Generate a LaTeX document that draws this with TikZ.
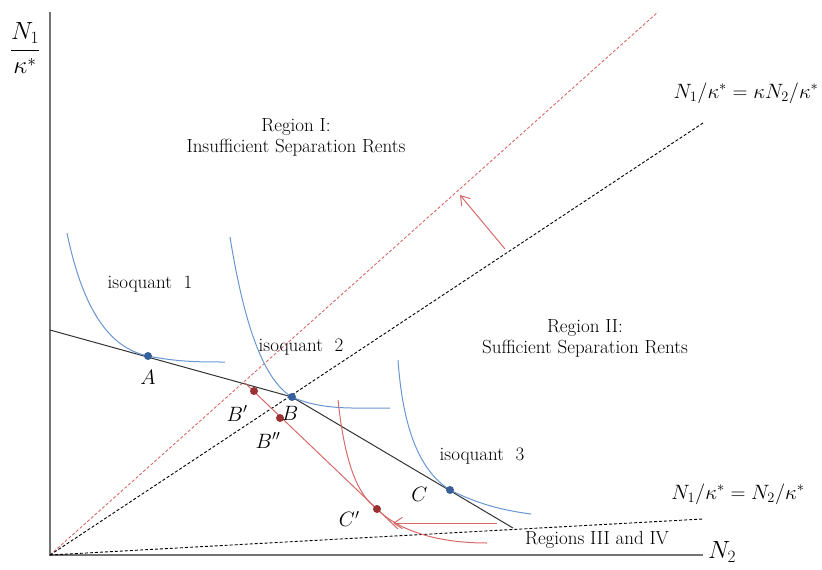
\documentclass[tikz,border=0pt]{standalone}
\usepackage{amsmath}
\usetikzlibrary{positioning,arrows.meta}
\usepackage{xcolor}
\definecolor{isoblue}{RGB}{105,150,210}
\definecolor{dotblue}{RGB}{55,95,155}
\definecolor{shiftred}{RGB}{215,105,105}
\definecolor{dotred}{RGB}{155,50,50}

\begin{document}
\begin{tikzpicture}[x=1pt, y=-1pt, every node/.style={font=\fontsize{19}{21}\selectfont}, axis/.style={draw=black!55, line width=1.8pt}, ray/.style={densely dashed, line width=0.9pt}, iso/.style={isoblue, line width=1pt}, shifted/.style={shiftred, line width=1pt}, dot/.style={circle, fill=#1, inner sep=0pt, minimum size=8pt}, pt/.style={font=\fontsize{20}{22}\selectfont}, big/.style={font=\fontsize{27}{30}\selectfont}, arr/.style={-{Straight Barb[length=3mm, width=4mm]}, shiftred, line width=1pt}]
\useasboundingbox (0,0) rectangle (822,570);
% axes and rays
\coordinate (O) at (50,555);
\coordinate (ytop) at (50,12);
\coordinate (xend) at (703,555);
\coordinate (kend) at (703,123);
\coordinate (rend) at (658,12);
\coordinate (lend) at (703,519);
\coordinate (bstart) at (50,330);
\coordinate (kink) at (245,383);
\coordinate (bend) at (513,528);
\coordinate (rlend) at (398,529);
\coordinate (A) at (148,356);
\coordinate (B) at (292,397);
\coordinate (C) at (450,490);
\coordinate (Bp) at (254,391);
\coordinate (Bpp) at (280,418);
\coordinate (Cp) at (377,509);
\draw[axis] (ytop)--(O)--(xend);
\draw[ray, shiftred] (O)--(rend);
\draw[ray] (O)--(kend);
\draw[ray] (O)--(lend);
% budget lines
\draw[black!80, line width=1pt] (bstart)--(B)--(bend);
\draw[shifted] (kink)--(rlend);
% isoquants
\draw[iso] (67,233) .. controls (85,320) and (115,349) .. (A) .. controls (178,362) and (200,362) .. (225,362);
\draw[iso] (230,237) .. controls (245,330) and (265,381) .. (B) .. controls (322,410) and (350,408) .. (390,408);
\draw[iso] (398,360) .. controls (403,430) and (420,471) .. (C) .. controls (476,503) and (500,510) .. (531,514);
\draw[shifted] (338,400) .. controls (345,465) and (358,495) .. (Cp) .. controls (400,532) and (440,543) .. (487,543);
% shifts
\coordinate (a1) at (505,249);
\coordinate (a2) at (460,195);
\coordinate (a3) at (497,523);
\coordinate (a4) at (393,523);
\draw[arr] (a1)--(a2);
\draw[arr] (a3)--(a4);
% points
\node[dot=dotblue] at (A) {};
\node[dot=dotblue] at (B) {};
\node[dot=dotblue] at (C) {};
\node[dot=dotred] at (Bp) {};
\node[dot=dotred] at (Bpp) {};
\node[dot=dotred] at (Cp) {};
\node[pt, below=11pt of A] (labA) {$A$};
\node[pt, below=6pt of B, xshift=-2pt] (labB) {$B$};
\node[pt, below=11pt of Bp, xshift=-17pt] (labBp) {$B'$};
\node[pt, below=11pt of Bpp, xshift=-12pt] (labBpp) {$B''$};
\node[pt, left=19pt of C, yshift=-4pt] (labC) {$C$};
\node[pt, left=14pt of Cp, yshift=-10pt] (labCp) {$C'$};
% texts
\node[align=center] (reg1) at (296,137) {Region I:\\Insufficient Separation Rents};
\node[align=center] (reg2) at (585,338) {Region II:\\Sufficient Separation Rents};
\node (iso1) at (150,284) {isoquant\ \ 1};
\node (iso2) at (301,347) {isoquant\ \ 2};
\node (iso3) at (482,456) {isoquant\ \ 3};
\node (reg34) at (597,540) {Regions III and IV};
\node[pt, font=\fontsize{22}{24}\selectfont] (kray) at (746,93) {$N_1/\kappa^* = \kappa N_2/\kappa^*$};
\node[pt, font=\fontsize{22}{24}\selectfont] (lray) at (738,494) {$N_1/\kappa^* = N_2/\kappa^*$};
\node[big] (xlab) at (722,552) {$N_2$};
\node[big, font=\fontsize{25}{28}\selectfont] (ylab) at (25,48) {$\dfrac{N_1}{\kappa^*}$};
\end{tikzpicture}
\end{document}
